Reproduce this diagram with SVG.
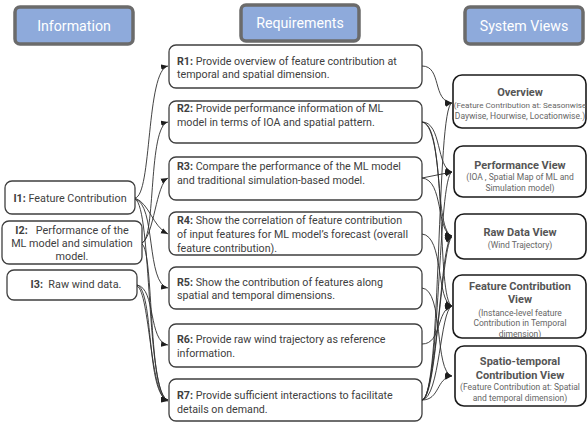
<svg xmlns="http://www.w3.org/2000/svg" width="588" height="423" viewBox="0 0 588 423">
<defs>
<style>
text{font-family:"Roboto","Liberation Sans",sans-serif;}
.hdr{fill:#8eaadb;stroke:#6b6b6b;stroke-width:3.5;}
.hdrt{fill:#ffffff;font-size:14.2px;text-anchor:middle;}
.box{fill:#ffffff;stroke:#3f3f3f;stroke-width:1.3;}
.vbox{fill:#ffffff;stroke:#1a1a1a;stroke-width:1.6;}
.rt{fill:#404040;font-size:10.7px;}
.it{fill:#404040;font-size:10.8px;text-anchor:middle;}
.b{font-weight:bold;}
.vt{fill:#555555;font-size:11px;font-weight:bold;text-anchor:middle;}
.vs{fill:#666666;font-size:8.5px;text-anchor:middle;}
.vsn{font-size:8.1px;}
.c{fill:none;stroke:#2e2e2e;stroke-width:0.9;marker-end:url(#ah);}
</style>
<marker id="ah" viewBox="0 0 10 10" refX="10" refY="5" markerWidth="7" markerHeight="7" orient="auto" markerUnits="userSpaceOnUse">
<path d="M0,1 L10,5 L0,9 z" fill="#1e1e1e"/>
</marker>
</defs>
<rect width="588" height="423" fill="#ffffff"/>

<g id="hdr-information"><rect class="hdr" x="15" y="7" width="118" height="37" rx="5"/><text class="hdrt" x="74" y="31">Information</text></g>
<g id="hdr-requirements"><rect class="hdr" x="241" y="5" width="118" height="36" rx="5"/><text class="hdrt" x="300" y="28">Requirements</text></g>
<g id="hdr-systemviews"><rect class="hdr" x="465" y="7" width="118" height="37" rx="5"/><text class="hdrt" x="524" y="31">System Views</text></g>

<g id="I1"><rect class="box" x="5" y="181" width="130" height="33" rx="7"/><text class="it" x="70" y="202"><tspan class="b">I1:</tspan> Feature Contribution</text></g>
<g id="I2"><rect class="box" x="2" y="221" width="140" height="43" rx="7"/><text class="it" x="72" y="234" xml:space="preserve"><tspan class="b">I2:</tspan>   Performance of the</text><text class="it" x="72" y="247">ML model and simulation</text><text class="it" x="72" y="260">model.</text></g>
<g id="I3"><rect class="box" x="7" y="270" width="130" height="30" rx="7"/><text class="it" x="76" y="288" xml:space="preserve"><tspan class="b">I3:</tspan>  Raw wind data.</text></g>

<g id="R1"><rect class="box" x="169" y="45" width="253" height="43" rx="7"/><text class="rt" x="177" y="65"><tspan class="b">R1:</tspan> Provide overview of feature contribution at</text><text class="rt" x="177" y="78">temporal and spatial dimension.</text></g>
<g id="R2"><rect class="box" x="169" y="101" width="253" height="42" rx="7"/><text class="rt" x="177" y="112"><tspan class="b">R2:</tspan> Provide performance information of ML</text><text class="rt" x="177" y="126">model in terms of IOA and spatial pattern.</text></g>
<g id="R3"><rect class="box" x="169" y="157" width="253" height="43" rx="7"/><text class="rt" x="177" y="170"><tspan class="b">R3:</tspan> Compare the performance of the ML model</text><text class="rt" x="177" y="184">and traditional simulation-based model.</text></g>
<g id="R4"><rect class="box" x="169" y="212" width="253" height="43" rx="7"/><text class="rt" x="177" y="224"><tspan class="b">R4:</tspan> Show the correlation of feature contribution</text><text class="rt" x="177" y="238">of input features for ML model’s forecast (overall</text><text class="rt" x="177" y="252">feature contribution).</text></g>
<g id="R5"><rect class="box" x="169" y="267" width="253" height="42" rx="7"/><text class="rt" x="177" y="286"><tspan class="b">R5:</tspan> Show the contribution of features along</text><text class="rt" x="177" y="299">spatial and temporal dimensions.</text></g>
<g id="R6"><rect class="box" x="169" y="324" width="253" height="43" rx="7"/><text class="rt" x="177" y="343"><tspan class="b">R6:</tspan> Provide raw wind trajectory as reference</text><text class="rt" x="177" y="357">information.</text></g>
<g id="R7"><rect class="box" x="169" y="379" width="253" height="42" rx="7"/><text class="rt" x="177" y="399"><tspan class="b">R7:</tspan> Provide sufficient interactions to facilitate</text><text class="rt" x="177" y="413">details on demand.</text></g>

<g id="V-overview"><rect class="vbox" x="453" y="75" width="133" height="53" rx="9"/><text class="vt" x="520" y="96">Overview</text><text class="vs vsn" x="520" y="108">(Feature Contribution at: Seasonwise</text><text class="vs" x="520" y="119">Daywise, Hourwise, Locationwise.)</text></g>
<g id="V-performance"><rect class="vbox" x="454" y="146" width="132" height="51" rx="9"/><text class="vt" x="520" y="169">Performance View</text><text class="vs" x="520" y="180">(IOA , Spatial Map of ML and</text><text class="vs" x="520" y="191">Simulation model)</text></g>
<g id="V-rawdata"><rect class="vbox" x="455" y="214" width="131" height="45" rx="9"/><text class="vt" x="520" y="236">Raw Data View</text><text class="vs" x="520" y="248">(Wind Trajectory)</text></g>
<g id="V-featurecontribution"><rect class="vbox" x="453" y="275" width="133" height="63" rx="9"/><text class="vt" x="520" y="290">Feature Contribution</text><text class="vt" x="520" y="303">View</text><text class="vs" x="520" y="315.5">(Instance-level feature</text><text class="vs" x="520" y="326">Contribution in Temporal</text><text class="vs" x="520" y="336.5">dimension)</text></g>
<g id="V-spatiotemporal"><rect class="vbox" x="455" y="346" width="131" height="60" rx="9"/><text class="vt" x="520" y="365">Spatio-temporal</text><text class="vt" x="520" y="379">Contribution View</text><text class="vs" x="520" y="390">(Feature Contribution at: Spatial</text><text class="vs" x="520" y="401">and temporal dimension)</text></g>

<g id="connectors">
<path class="c" d="M135,198 C152,196 146,70 168,66"/>
<path class="c" d="M135,198 C150,204 152,226 168,234"/>
<path class="c" d="M135,199 C156,204 146,284 168,288"/>
<path class="c" d="M135,199 C152,206 146,396 168,400"/>
<path class="c" d="M142,243 C156,238 148,126 168,122"/>
<path class="c" d="M142,243 C154,236 156,184 168,178"/>
<path class="c" d="M142,244 C154,252 148,396 168,400"/>
<path class="c" d="M137,285 C156,288 148,342 168,345"/>
<path class="c" d="M137,285 C154,290 146,396 168,400"/>
<path class="c" d="M137,286 C150,292 150,398 168,401"/>

<path class="c" d="M422,66 C442,66 432,101 452,103"/>
<path class="c" d="M422,122 C442,122 436,168 452,172"/>
<path class="c" d="M422,122 C444,124 434,232 452,236"/>
<path class="c" d="M422,122 C448,126 436,300 452,306"/>
<path class="c" d="M422,178 L452,172"/>
<path class="c" d="M422,178 C444,180 436,232 452,236"/>
<path class="c" d="M422,234 C444,236 436,302 452,306"/>
<path class="c" d="M422,288 C444,290 434,372 452,376"/>
<path class="c" d="M422,344 C442,344 436,310 452,306"/>
<path class="c" d="M422,400 C442,398 436,106 452,103"/>
<path class="c" d="M422,400 C440,398 438,176 452,172"/>
<path class="c" d="M422,400 C438,398 440,240 452,236"/>
<path class="c" d="M422,400 C436,398 442,242 452,237"/>
<path class="c" d="M422,400 C440,398 440,310 452,306"/>
<path class="c" d="M422,400 C440,400 436,378 452,376"/>
</g>
</svg>
